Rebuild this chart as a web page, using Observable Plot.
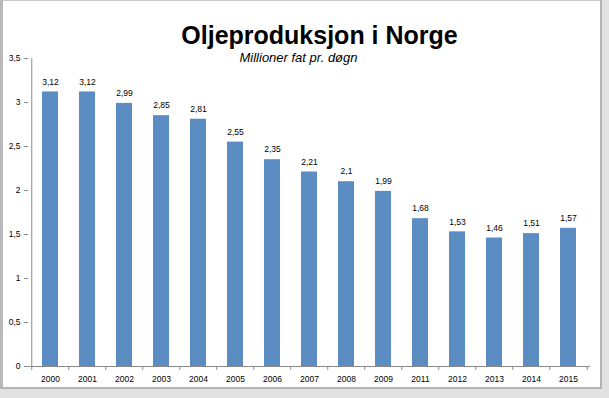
<!DOCTYPE html>
<html><head><meta charset="utf-8">
<script src="https://cdn.jsdelivr.net/npm/d3@7"></script>
<script src="https://cdn.jsdelivr.net/npm/@observablehq/plot@0.6"></script>
<style>
body{margin:0;background:#e2e2e2;width:609px;height:398px;overflow:hidden;font-family:"Liberation Sans",Arial,sans-serif;}
#panel{position:absolute;left:0;top:0;width:597px;height:386px;background:#fff;border-left:3px solid #b8b8b8;border-top:1px solid #c8c8c8;border-right:2px solid #b4b4b4;border-bottom:2px solid #b4b4b4;}
#chart{position:absolute;left:0;top:0;}
</style></head><body><div id="panel"></div><div id="chart"></div>
<script>
const title = "Oljeproduksjon i Norge";
const subtitle = "Millioner fat pr. døgn";
const years = ["2000","2001","2002","2003","2004","2005","2006","2007","2008","2009","2011","2012","2013","2014","2015"];
const values = [3.12,3.12,2.99,2.85,2.81,2.55,2.35,2.21,2.1,1.99,1.68,1.53,1.46,1.51,1.57];
const yTicks = [0,0.5,1,1.5,2,2.5,3,3.5];

const data = years.map((y, i) => ({year: y, value: values[i]}));
const fmt = d => String(d).replace(".", ",");
const W = 609, H = 398, ML = 28, MR = 19, MT = 58, MB = 32;
const step = (W - ML - MR) / years.length;
const axisColor = "#8a8a8a";

const chart = Plot.plot({
  width: W, height: H,
  marginLeft: ML, marginRight: MR, marginTop: MT, marginBottom: MB,
  style: {background: "transparent", fontFamily: "'Liberation Sans', Arial, sans-serif", fontSize: "8.5px", color: "#000"},
  x: {domain: years, paddingInner: 0.57, paddingOuter: 0.285, label: null},
  y: {domain: [0, 3.5], label: null},
  marks: [
    Plot.barY(data, {x: "year", y: "value", fill: "#5b8cc2"}),
    Plot.text(data, {x: "year", y: "value", text: d => fmt(d.value), dy: -10, fontSize: 8.5, fill: "#000"}),
    Plot.axisY({ticks: yTicks, tickFormat: fmt, tickSize: 4, tickPadding: 4, stroke: axisColor, fill: "#000", fontSize: 8.5, label: null}),
    Plot.axisX({tickSize: 0, tickPadding: 9, fill: "#000", fontSize: 8.5, label: null}),
    Plot.ruleY([0], {stroke: axisColor}),
    Plot.ruleX(data.slice(0, 1), {x: "year", y1: 0, y2: 3.5, dx: -step / 2, stroke: axisColor}),
    Plot.ruleX(data, {x: "year", y1: 0, y2: -0.045, dx: -step / 2, stroke: axisColor}),
    Plot.ruleX(data.slice(-1), {x: "year", y1: 0, y2: -0.045, dx: step / 2, stroke: axisColor}),
    Plot.text([title], {frameAnchor: "top", dx: 10, dy: -23, lineAnchor: "middle", fontSize: 25, fontWeight: "bold", fill: "#000"}),
    Plot.text([subtitle], {frameAnchor: "top", dx: -11, dy: -1, lineAnchor: "middle", fontSize: 13, fontStyle: "italic", fill: "#000"})
  ]
});
document.getElementById("chart").appendChild(chart);
</script>
</body></html>
